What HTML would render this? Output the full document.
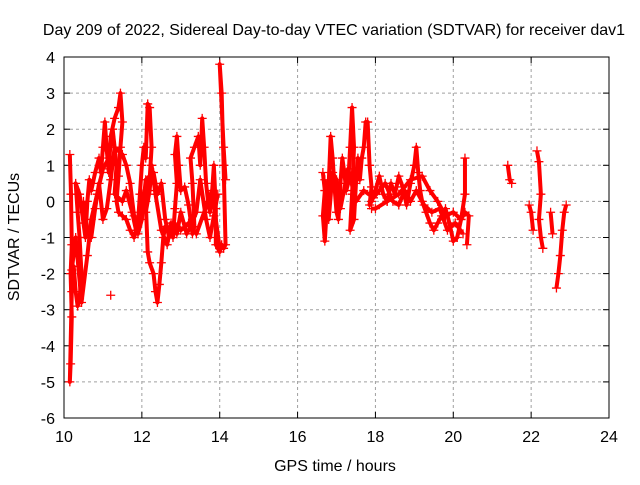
<!DOCTYPE html>
<html><head><meta charset="utf-8"><style>
body{margin:0;background:#fff}
svg text{font-family:"Liberation Sans",sans-serif;font-size:16px;fill:#000}
</style></head><body>
<svg width="640" height="480">
<rect width="640" height="480" fill="#fff"/>
<text x="334" y="35" text-anchor="middle">Day 209 of 2022, Sidereal Day-to-day VTEC variation (SDTVAR) for receiver dav1</text>
<g id="grid"></g>
<g id="axes"></g>
<g id="marks"></g>
<rect x="64" y="57" width="545" height="361" fill="none" stroke="#000" stroke-width="1"/>
<text transform="translate(19,237) rotate(-90)" text-anchor="middle">SDTVAR / TECUs</text>
<text x="335" y="471" text-anchor="middle">GPS time / hours</text>
</svg>
<script>
const xTicks=[10,12,14,16,18,20,22,24];
const yTicks=[4,3,2,1,0,-1,-2,-3,-4,-5,-6];
const segA=[[10.15,1.3],[10.18,0.2],[10.2,-1.2],[10.17,-2.0],[10.2,-3.2],[10.17,-4.5],[10.15,-5.0],[10.2,-2.5],[10.25,-1.8],[10.3,-2.5],[10.35,-2.9],[10.4,-2.7],[10.45,-2.0],[10.4,-1.0],[10.35,-0.3],[10.3,0.5],[10.4,0.2],[10.5,-0.6],[10.55,-1.0],[10.6,0.0],[10.65,0.6],[10.7,0.3],[10.8,0.8],[10.9,1.2],[10.95,0.8],[11.0,1.5],[11.05,2.2],[11.1,1.4],[11.15,0.8],[11.2,1.8],[11.3,2.3],[11.4,2.6],[11.45,3.0],[11.5,2.2],[11.45,1.5],[11.4,0.7],[11.35,0.0],[11.4,-0.3],[11.5,-0.4],[11.6,-0.5],[11.7,-0.8],[11.8,-1.0],[11.9,-0.6],[11.95,0.2],[12.0,1.0],[12.05,1.5],[12.1,1.2],[12.15,2.7],[12.2,2.6],[12.25,1.5],[12.2,0.6],[12.1,0.0],[12.15,-1.4],[12.2,-1.7],[12.3,-2.0],[12.35,-2.5],[12.4,-2.8],[12.45,-2.3],[12.5,-1.7],[12.55,-1.0],[12.6,-0.7],[12.7,-0.8],[12.8,-1.0],[12.85,-0.2],[12.9,0.5],[12.85,1.3],[12.9,1.8],[12.95,1.0],[13.0,0.3],[13.1,0.4],[13.2,-0.1],[13.3,-0.9],[13.35,-0.7],[13.3,0.5],[13.25,1.2],[13.35,1.5],[13.45,1.8],[13.5,1.0],[13.55,2.3],[13.6,1.5],[13.65,0.5],[13.7,0.0],[13.75,-0.3],[13.8,0.2],[13.85,1.0],[13.9,-0.2],[13.9,-1.2],[14.0,-1.4],[14.05,-1.2],[14.1,-1.3],[14.15,-1.2],[14.1,1.0],[14.05,3.0],[14.0,3.8],[14.1,1.5],[14.15,0.6]];
const segA2=[[10.5,0.0],[10.6,-0.8],[10.7,-1.0],[10.8,-0.2],[10.9,0.5],[11.0,-0.5],[11.1,-0.2],[11.2,0.6],[11.3,1.5],[11.5,1.3],[11.6,1.0],[11.7,0.5],[11.8,-0.4],[11.9,-0.9],[12.0,-0.5],[12.1,0.6],[12.3,0.8],[12.4,0.2],[12.5,0.5],[12.6,-0.5],[12.7,-1.0],[12.8,-0.6],[13.0,-0.8],[13.2,-0.6],[13.4,-0.9],[13.6,-0.3],[13.8,0.3],[14.0,-1.3]];
const segA3=[[10.2,-1.9],[10.3,-1.0],[10.45,-2.8],[10.6,-1.5],[10.7,-0.5],[10.85,0.2],[11.0,0.9],[11.15,1.2],[11.25,2.0],[11.35,1.0],[11.3,0.2],[11.5,0.0],[11.6,0.3],[11.75,-0.3],[11.85,-0.8],[12.0,0.2],[12.1,-0.3],[12.2,0.3],[12.25,1.0],[12.35,0.2],[12.5,-0.8],[12.65,-1.2],[12.75,-0.6],[12.9,-0.9],[13.0,-0.3],[13.15,-0.9],[13.25,-0.7],[13.4,-0.3],[13.5,0.6],[13.65,-0.5],[13.75,-1.0],[13.85,-0.4],[13.95,0.2]];
const segB=[[16.65,0.8],[16.7,0.3],[16.65,-0.4],[16.7,-1.1],[16.75,-0.2],[16.8,0.5],[16.85,1.8],[16.9,1.2],[16.95,0.4],[17.0,-0.3],[17.05,-0.5],[17.1,0.5],[17.15,1.2],[17.2,0.8],[17.25,0.3],[17.3,0.5],[17.35,1.5],[17.4,2.6],[17.45,1.5],[17.4,0.2],[17.35,-0.8],[17.45,-0.5],[17.5,0.5],[17.55,1.2],[17.6,0.6],[17.65,1.2],[17.7,1.5],[17.75,2.2],[17.8,2.2],[17.85,1.0],[17.9,0.4],[17.85,-0.1],[17.9,0.0],[18.0,0.3],[18.1,0.7],[18.2,0.2],[18.3,0.0],[18.4,0.5],[18.5,0.2],[18.6,0.7],[18.7,0.4],[18.8,-0.1],[18.9,0.5],[19.0,1.0],[19.05,1.5],[19.1,0.8],[19.15,0.3],[19.2,0.0],[19.3,-0.3],[19.4,-0.6],[19.5,-0.8],[19.6,-0.6],[19.7,-0.4],[19.8,-0.2],[19.9,-0.6],[20.0,-1.1],[20.1,-1.0],[20.2,-0.5],[20.3,-0.3],[20.4,-0.4],[20.35,-1.2]];
const segB2=[[17.9,-0.2],[18.0,-0.2],[18.3,0.0],[18.6,0.2],[18.9,0.6],[19.2,0.7],[19.4,0.3],[19.6,0.0],[19.8,-0.4],[20.0,-0.3],[20.2,-0.5],[20.3,0.2],[20.3,1.2]];
const segB3=[[16.7,0.6],[16.8,-0.5],[16.9,0.8],[17.0,0.6],[17.1,-0.2],[17.3,0.9],[17.5,0.0],[17.7,0.3],[17.95,0.1],[18.1,0.3],[18.25,0.5],[18.45,0.0],[18.6,-0.1],[18.75,0.3],[18.9,0.0],[19.05,0.3],[19.25,-0.1],[19.45,-0.3],[19.65,-0.2],[19.85,-0.8],[20.05,-0.6],[20.25,-0.9]];
const segC1=[[21.4,1.0],[21.45,0.6],[21.5,0.5]];
const segC2=[[21.95,-0.1],[22.0,-0.3],[22.05,-0.8]];
const segC3=[[22.15,1.4],[22.2,1.1],[22.25,0.2],[22.2,-0.5],[22.25,-1.0],[22.3,-1.3]];
const segC4=[[22.5,-0.3],[22.55,-0.9]];
const segC5=[[22.65,-2.4],[22.7,-2.0],[22.75,-1.5],[22.8,-0.8],[22.85,-0.3],[22.9,-0.1]];
const segD=[[11.2,-2.6]];
const segments=[segA,segA2,segA3,segB,segB2,segB3,segC1,segC2,segC3,segC4,segC5,segD];

const X0=64,X1=609,Y0=418,Y1=57;
const sx=t=>X0+(t-10)/(24-10)*(X1-X0);
const sy=v=>Y0-(v+6)/10*(Y0-Y1);
const NS="http://www.w3.org/2000/svg";
const grid=document.getElementById('grid'),axes=document.getElementById('axes'),marks=document.getElementById('marks');
function mk(tag,attrs,parent){const e=document.createElementNS(NS,tag);for(const k in attrs)e.setAttribute(k,attrs[k]);parent.appendChild(e);return e;}
xTicks.forEach(t=>{const x=sx(t);
 if(t>10&&t<24){const g=mk('line',{x1:x,x2:x,y1:Y1,y2:Y0,stroke:'#a0a0a0','stroke-dasharray':'3,3'},grid);
 
 }
 mk('line',{x1:x,x2:x,y1:Y0,y2:Y0-6,stroke:'#000'},axes);
 mk('line',{x1:x,x2:x,y1:Y1,y2:Y1+6,stroke:'#000'},axes);
 const l=mk('text',{x:x,y:Y0+24,'text-anchor':'middle'},axes);l.textContent=t;
 
 });
yTicks.forEach(v=>{const y=sy(v);
 if(v>-6&&v<4){const g=mk('line',{x1:X0,x2:X1,y1:y,y2:y,stroke:'#a0a0a0','stroke-dasharray':'3,3'},grid);
 
 }
 mk('line',{x1:X0,x2:X0+6,y1:y,y2:y,stroke:'#000'},axes);
 mk('line',{x1:X1,x2:X1-6,y1:y,y2:y,stroke:'#000'},axes);
 const l=mk('text',{x:X0-9,y:y+6,'text-anchor':'end'},axes);l.textContent=v;
 
 });
segments.forEach(seg=>{
 if(seg.length>1){const p=mk('polyline',{points:seg.map(d=>sx(d[0])+','+sy(d[1])).join(' '),fill:'none',stroke:'#ff0000','stroke-width':4,'stroke-linejoin':'round'},marks);
 
 }
 seg.forEach(d=>{const x=sx(d[0]),y=sy(d[1]);
  const m=mk('path',{d:`M${x-4.5},${y}H${x+4.5}M${x},${y-4.5}V${y+4.5}`,stroke:'#ff0000','stroke-width':1.3},marks);
  
  });
});
</script>
</body></html>
